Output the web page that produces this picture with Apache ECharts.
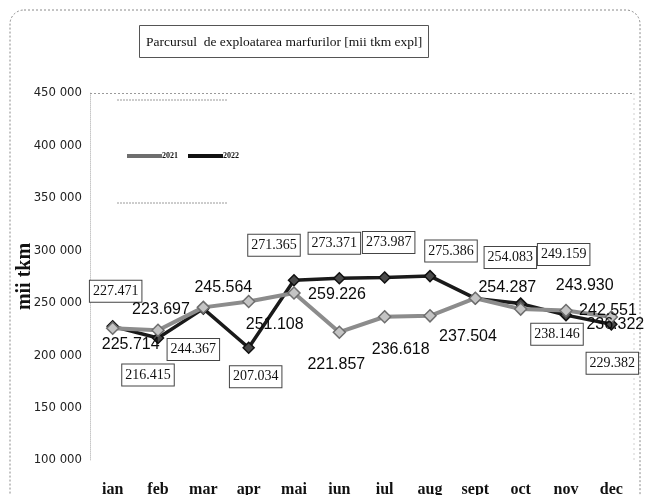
<!DOCTYPE html>
<html>
<head>
<meta charset="utf-8">
<script src="https://cdn.jsdelivr.net/npm/echarts@6/dist/echarts.min.js"></script>
<style>
  html, body { margin: 0; padding: 0; background: #fff; }
  #chart { width: 647px; height: 495px; }
</style>
</head>
<body>
<div id="chart"></div>
<script>
// Monthly freight operating run, thousand tkm
const months = ['ian', 'feb', 'mar', 'apr', 'mai', 'iun', 'iul', 'aug', 'sept', 'oct', 'nov', 'dec'];
const values2021 = [225714, 223697, 245564, 251108, 259226, 221857, 236618, 237504, 254287, 243930, 242551, 236322];
const values2022 = [227471, 216415, 244367, 207034, 271365, 273371, 273987, 275386, 254083, 249159, 238146, 229382];
const yTicks = [100000, 150000, 200000, 250000, 300000, 350000, 400000, 450000];

// Label placement (pixel offsets from each marker)
const offsets2021 = [[18, 16], [3, -21], [20, -20], [26, 23], [43, 2], [-3, 32], [16, 33], [38, 21], [32, -11], [64, -23], [42, 0], [4, 8]];
const offsets2022 = [[3, -35], [-10, 37], [-10, 41], [7, 29], [-20, -35], [-5, -35], [4, -35], [21, -25], [35, -41], [43, -49], [-9, 19], [1, 39]];

const fmtThousands = v => (v / 1000).toFixed(3);
const fmtTick = v => {
  const s = String(v);
  return s.slice(0, s.length - 3) + ' ' + s.slice(s.length - 3);
};

const chart = echarts.init(document.getElementById('chart'), null, { renderer: 'canvas' });

const data2021 = values2021.map((v, i) => ({
  value: v,
  label: { offset: offsets2021[i] }
}));
const data2022 = values2022.map((v, i) => ({
  value: v,
  label: { offset: offsets2022[i] }
}));

chart.setOption({
  backgroundColor: '#fff',
  animation: false,
  title: {
    text: 'Parcursul  de exploatarea marfurilor [mii tkm expl]',
    left: 139,
    top: 25,
    padding: [10, 6, 9, 7],
    borderColor: '#555',
    borderWidth: 1,
    textStyle: {
      fontFamily: 'Liberation Serif',
      fontSize: 13.5,
      fontWeight: 'normal',
      color: '#111'
    }
  },
  legend: {
    left: 122,
    top: 147,
    itemWidth: 33,
    itemHeight: 2,
    itemGap: 10,
    icon: 'rect',
    textStyle: {
      fontFamily: 'Liberation Serif',
      fontSize: 8,
      fontWeight: 'bold',
      color: '#111',
      padding: [0, 0, 0, -4]
    },
    data: ['2021', '2022']
  },
  grid: { left: 90, right: 13, top: 93, bottom: 35, outerBoundsMode: 'none', containLabel: false },
  xAxis: {
    type: 'category',
    data: months,
    boundaryGap: true,
    axisLine: { show: false },
    axisTick: { show: false },
    axisLabel: {
      margin: 22,
      fontFamily: 'Liberation Serif',
      fontSize: 16,
      fontWeight: 'bold',
      color: '#111'
    }
  },
  yAxis: {
    type: 'value',
    min: yTicks[0],
    max: yTicks[yTicks.length - 1],
    interval: 50000,
    name: 'mii tkm',
    nameLocation: 'middle',
    nameRotate: 90,
    nameGap: 55,
    nameMoveOverlap: false,
    nameTextStyle: {
      fontFamily: 'Liberation Serif',
      fontSize: 20,
      fontWeight: 'bold',
      color: '#111'
    },
    axisLine: { show: true, lineStyle: { color: '#c8c8c8', type: 'dotted', width: 1 } },
    axisTick: { show: false },
    splitLine: { show: false },
    axisLabel: {
      margin: 8,
      fontFamily: "'Liberation Sans Narrow', 'DejaVu Sans Condensed', Roboto, sans-serif",
      fontSize: 13,
      color: '#222',
      formatter: fmtTick
    }
  },
  series: [
    {
      name: '2022',
      type: 'line',
      data: data2022,
      z: 3,
      symbol: 'diamond',
      symbolSize: 11,
      color: '#1a1a1a',
      lineStyle: { color: '#1a1a1a', width: 3.5 },
      itemStyle: { color: '#4a4a4a', borderColor: '#111', borderWidth: 1.5 },
      label: {
        show: true,
        position: 'inside',
        align: 'center',
        verticalAlign: 'middle',
        formatter: p => fmtThousands(p.value),
        fontFamily: 'Liberation Serif',
        fontSize: 14,
        color: '#111',
        backgroundColor: '#fff',
        borderColor: '#444',
        borderWidth: 1,
        padding: [4, 3, 3, 3]
      },
      markLine: {
        silent: true,
        symbol: 'none',
        label: { show: false },
        lineStyle: { color: '#9a9a9a', type: [2, 2], width: 1 },
        data: [{ yAxis: yTicks[yTicks.length - 1] }]
      }
    },
    {
      name: '2021',
      type: 'line',
      data: data2021,
      z: 4,
      symbol: 'diamond',
      symbolSize: 12,
      color: '#8c8c8c',
      lineStyle: { color: '#8c8c8c', width: 4 },
      itemStyle: { color: '#c4c4c4', borderColor: '#6e6e6e', borderWidth: 1.5 },
      label: {
        show: true,
        position: 'inside',
        align: 'center',
        verticalAlign: 'middle',
        formatter: p => fmtThousands(p.value),
        fontFamily: 'Liberation Sans',
        fontSize: 16,
        color: '#0a0a0a'
      }
    }
  ],
  graphic: [
    {
      type: 'rect',
      silent: true,
      z: -1,
      shape: { x: 10, y: 10, width: 630, height: 500, r: 14 },
      style: { fill: 'none', stroke: '#8a8a8a', lineWidth: 1, lineDash: [2, 2] }
    },
    {
      type: 'line',
      silent: true,
      shape: { x1: 117, y1: 100, x2: 228, y2: 100 },
      style: { stroke: '#9a9a9a', lineWidth: 1, lineDash: [2, 1] }
    },
    {
      type: 'line',
      silent: true,
      shape: { x1: 117, y1: 203, x2: 228, y2: 203 },
      style: { stroke: '#9a9a9a', lineWidth: 1, lineDash: [2, 1] }
    },
    {
      type: 'line',
      silent: true,
      shape: { x1: 634, y1: 93, x2: 634, y2: 460 },
      style: { stroke: '#d0d0d0', lineWidth: 1, lineDash: [2, 3] }
    }
  ]
});
</script>
</body>
</html>
